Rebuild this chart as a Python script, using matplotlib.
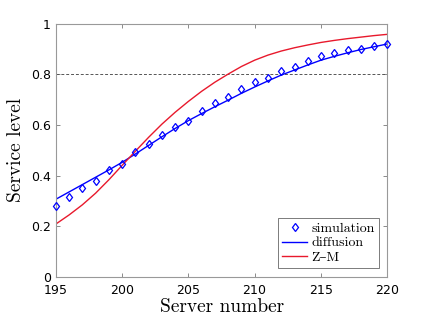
import numpy as np
import matplotlib
matplotlib.use("Agg")
import matplotlib.pyplot as plt

# server numbers and service levels
servers = np.arange(195, 221)
simulation = [0.281, 0.315, 0.352, 0.377, 0.423, 0.447, 0.492, 0.523, 0.560, 0.593,
              0.617, 0.654, 0.685, 0.709, 0.741, 0.770, 0.785, 0.813, 0.828, 0.854,
              0.872, 0.883, 0.895, 0.900, 0.913, 0.920]
diffusion = [0.306, 0.335, 0.364, 0.393, 0.422, 0.452, 0.485, 0.519, 0.553, 0.586,
             0.617, 0.645, 0.672, 0.698, 0.725, 0.750, 0.774, 0.797, 0.817, 0.837,
             0.856, 0.871, 0.885, 0.898, 0.909, 0.920]
zm = [0.208, 0.244, 0.284, 0.330, 0.383, 0.440, 0.496, 0.551, 0.603, 0.650,
      0.693, 0.733, 0.769, 0.801, 0.831, 0.856, 0.876, 0.892, 0.905, 0.916,
      0.926, 0.934, 0.941, 0.947, 0.953, 0.958]
target_level = 0.8

serif = ["cmr10", "DejaVu Serif"]
plt.rcParams["axes.formatter.use_mathtext"] = True

fig = plt.figure(figsize=(4.29, 3.23), dpi=100)
ax = fig.add_axes([0.130, 0.1433, 0.773, 0.7833])

ax.axhline(target_level, color="#555555", lw=0.7, ls=(0, (3, 2)))
ax.plot(servers, simulation, ls="none", marker="d", ms=4.5, mfc="none",
        mec="#0000ff", mew=0.9, label="simulation", clip_on=False, zorder=3)
ax.plot(servers, diffusion, color="#0000ff", lw=1.0, label="diffusion")
ax.plot(servers, zm, color="#e8192c", lw=1.0, label="Z–M")

ax.set_xlim(195, 220)
ax.set_ylim(0, 1)
ax.set_xticks(np.arange(195, 221, 5))
ax.set_yticks(np.arange(0, 1.01, 0.2))
ax.set_yticklabels(["0", "0.2", "0.4", "0.6", "0.8", "1"])
ax.tick_params(direction="in", top=True, right=True, length=3, width=0.6,
               color="#777777", labelsize=9)
ax.tick_params(axis="x", pad=5)
for s in ax.spines.values():
    s.set_color("#999999")
    s.set_linewidth(0.8)

ax.set_xlabel("Server number", family=serif, fontsize=14, labelpad=1)
ax.set_ylabel("Service level", family=serif, fontsize=14, labelpad=4)

leg = ax.legend(loc="lower right", prop={"family": serif, "size": 10},
                fancybox=False, edgecolor="#666666", framealpha=1,
                borderpad=0.3, labelspacing=0.15, handlelength=1.8,
                handletextpad=0.3, borderaxespad=0.6, numpoints=1)
leg.get_frame().set_linewidth(0.6)

fig.savefig("out.png", dpi=100)
